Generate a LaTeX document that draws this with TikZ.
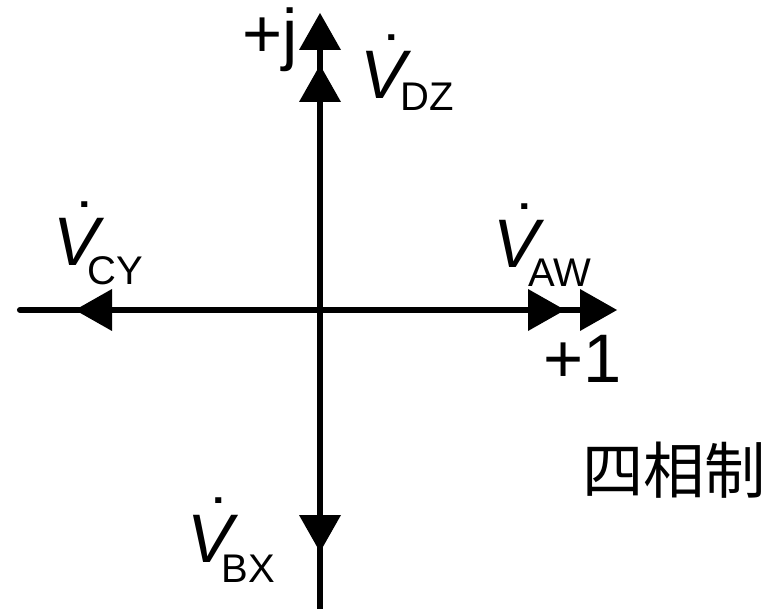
\documentclass[tikz,border=0pt]{standalone}
\usepackage{fontspec}
\setmainfont{Liberation Sans}
\newfontfamily\cjk{Noto Sans CJK SC}
\usetikzlibrary{arrows.meta}
\tikzset{
  phasor/.style={line width=4.6pt, -{Triangle[length=27.75pt,width=31.5pt,line width=0pt]}},
  axisarrow/.style={line width=4.6pt, line cap=round, -{Triangle[length=27.75pt,width=31.5pt,line width=0pt]}},
  lab/.style={font=\fontsize{51.5}{60}\selectfont, inner sep=0pt, anchor=base west},
  cjklab/.style={font=\cjk\fontsize{46}{50}\selectfont, inner sep=0pt}
}
\newcommand\phsym[3]{\rlap{\kern 17.5pt\raisebox{11pt}{˙}}{\itshape V}\kern#3\raisebox{#2}{\fontsize{30}{30}\selectfont #1}}
\begin{document}
\begin{tikzpicture}[x=0.75pt,y=-0.75pt]
\useasboundingbox (0,0) rectangle (777,609);
\coordinate (O) at (320,310);
\coordinate (L) at (20,310);
\coordinate (R) at (617,310);
\coordinate (T) at (320,13);
\coordinate (B) at (320,615);
\coordinate (AW) at (565,310);
\coordinate (CY) at (75,310);
\coordinate (DZ) at (320,65);
\coordinate (BX) at (320,552);
% axes
\draw[axisarrow] (L) -- (R);
\draw[axisarrow] (B) -- (T);
% phasors
\draw[phasor] (O) -- (AW);
\draw[phasor] (O) -- (CY);
\draw[phasor] (O) -- (DZ);
\draw[phasor] (O) -- (BX);
% labels
\node[lab] (lj) at (242,58) {+j};
\node[lab] (l1) at (543,382) {+1};
\node[lab] (lDZ) at (360,99) {\phsym{DZ}{-8.5pt}{-4pt}};
\node[lab] (lCY) at (53,266) {\phsym{CY}{-14pt}{-8.5pt}};
\node[lab] (lAW) at (493,268) {\phsym{AW}{-13.5pt}{-8pt}};
\node[lab] (lBX) at (187,562) {\phsym{BX}{-15pt}{-8.5pt}};
\node[cjklab] (title) at (674,470) {四相制};
\end{tikzpicture}
\end{document}
